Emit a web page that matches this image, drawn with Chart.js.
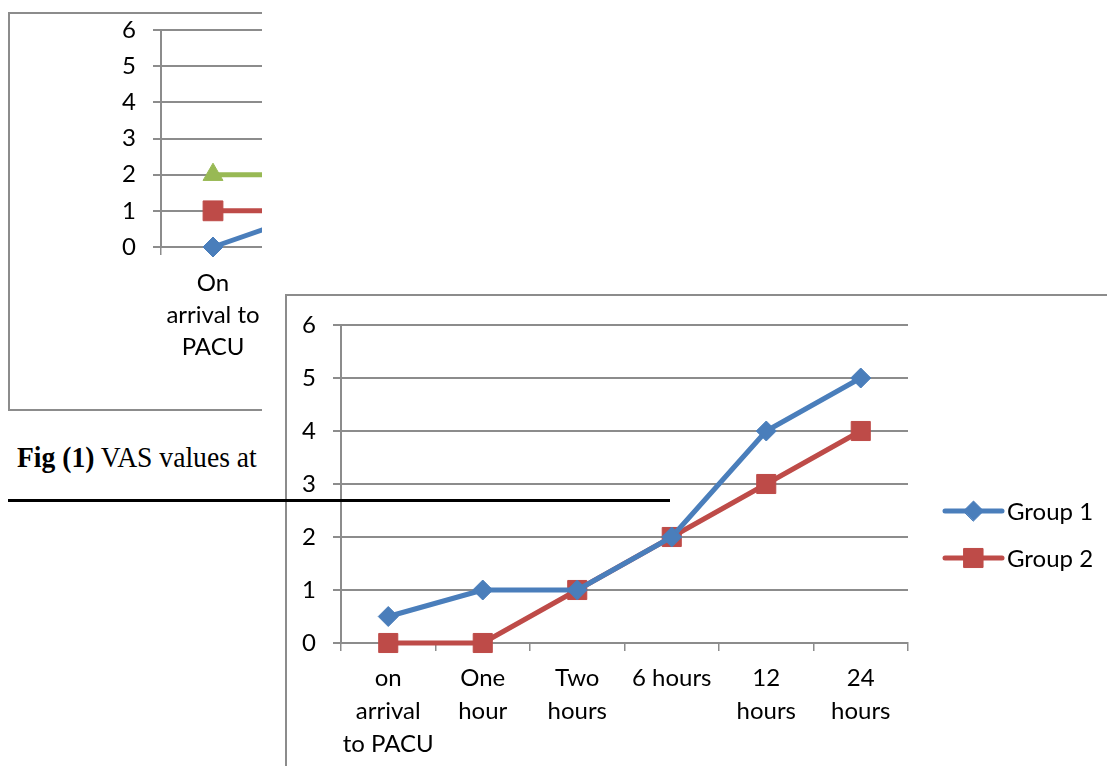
<!DOCTYPE html>
<html>
<head>
<meta charset="utf-8">
<script src="https://cdn.jsdelivr.net/npm/chart.js@4.4.0/dist/chart.umd.min.js"></script>
<style>
  html, body { margin: 0; padding: 0; background: #fff; overflow: hidden; }
  body { width: 1107px; height: 766px; position: relative; }
  .abs { position: absolute; }
  #backClip { left: 0; top: 0; width: 262px; height: 766px; overflow: hidden; }
  #backFrame { left: 8px; top: 12px; width: 900px; height: 395px; border: 2px solid #8c8c8c; box-sizing: content-box; }
  #frontFrame { left: 285px; top: 294px; width: 900px; height: 600px; border: 2px solid #8c8c8c; background: #fff; }
  #caption { left: 17px; top: 442px; font-family: "Liberation Serif", "Times New Roman", serif; font-size: 30px; line-height: 30px;
             color: #000; white-space: nowrap; transform: scaleX(0.92); transform-origin: 0 0; }
  #rule { left: 8px; top: 499px; width: 662px; height: 3px; background: #000; z-index: 10; }
</style>
</head>
<body>
<div id="backClip" class="abs">
  <div id="backFrame" class="abs"></div>
  <div class="abs" style="left:8px;top:12px;"><canvas id="backChart" width="420" height="397"></canvas></div>
</div>
<div id="caption" class="abs"><b>Fig (1)</b> VAS values at</div>
<div id="frontFrame" class="abs"></div>
<div class="abs" style="left:286px;top:295px;"><canvas id="vasChart" width="821" height="471"></canvas></div>
<div id="rule" class="abs"></div>
<script>
// front chart data
const times = [["on", "arrival", "to PACU"], ["One", "hour"], ["Two", "hours"], "6 hours", ["12", "hours"], ["24", "hours"]];
const group1 = [0.5, 1, 1, 2, 4, 5];
const group2 = [0, 0, 1, 2, 3, 4];
const yTicks = [0, 1, 2, 3, 4, 5, 6];

// back chart data (only the first point is visible)
const backTimes = [["On", "arrival to", "PACU"], ["One", "hour"]];
const backA = [0, 1];
const backB = [1, 1];
const backC = [2, 2];

const BLUE = "#4a7ebb", RED = "#be4b48", GREEN = "#98b954", GRID = "#8c8c8c";
const FONT = "Lato, 'Open Sans', sans-serif";

function series(label, data, color, style, r) {
  return {
    label, data,
    borderColor: color, backgroundColor: color,
    borderWidth: 5, borderJoinStyle: "round", borderCapStyle: "round",
    pointStyle: style, pointRadius: r, pointHoverRadius: r,
    pointBackgroundColor: color, pointBorderColor: color, pointBorderWidth: 1,
    tension: 0, clip: false
  };
}

function axes(area, h, xFont, lineH, labelPad, yFont) {
  return {
    x: {
      offset: true,
      afterFit: s => { s.height = h - area.bottom; },
      grid: { offset: true, drawOnChartArea: false, drawTicks: true, tickLength: 8, color: GRID, lineWidth: 1.5 },
      border: { display: true, color: GRID, width: 2 },
      ticks: { color: "#000", font: { family: FONT, size: xFont, lineHeight: lineH }, padding: labelPad, maxRotation: 0, autoSkip: false }
    },
    y: {
      min: 0, max: 6,
      afterFit: s => { s.width = area.left; s.paddingTop = 0; s.paddingBottom = 0; },
      afterBuildTicks: s => { s.ticks = yTicks.map(v => ({ value: v })); },
      grid: { color: GRID, lineWidth: 2, drawTicks: true, tickLength: 8 },
      border: { display: true, color: GRID, width: 2 },
      ticks: { color: "#000", font: { family: FONT, size: yFont }, padding: 17 }
    }
  };
}

// legend drawn as line + marker, like the office chart legend
const sideLegend = {
  id: "sideLegend",
  afterDraw(chart, args, opts) {
    if (!opts.show) return;
    const ctx = chart.ctx;
    chart.data.datasets.forEach((ds, i) => {
      const y = opts.top + i * opts.gap;
      ctx.save();
      ctx.strokeStyle = ds.borderColor;
      ctx.lineWidth = ds.borderWidth;
      ctx.lineCap = "round";
      ctx.beginPath();
      ctx.moveTo(opts.x0, y);
      ctx.lineTo(opts.x1, y);
      ctx.stroke();
      ctx.fillStyle = ds.pointBackgroundColor;
      ctx.strokeStyle = ds.pointBorderColor;
      ctx.lineWidth = 1;
      Chart.helpers.drawPoint(ctx, { pointStyle: ds.pointStyle, radius: ds.pointRadius, rotation: 0, borderWidth: 1 }, (opts.x0 + opts.x1) / 2, y);
      ctx.fillStyle = "#000";
      ctx.font = opts.font;
      ctx.textBaseline = "middle";
      ctx.textAlign = "left";
      ctx.fillText(ds.label, opts.x1 + 5, y + 1);
      ctx.restore();
    });
  }
};

const frontArea = { left: 55, top: 30, right: 622, bottom: 348 };
new Chart(document.getElementById("vasChart"), {
  type: "line",
  data: {
    labels: times,
    datasets: [
      series("Group 1", group1, BLUE, "rectRot", 10),
      series("Group 2", group2, RED, "rect", 13.5)
    ]
  },
  options: {
    responsive: false, animation: false,
    layout: { padding: { top: frontArea.top, right: 821 - frontArea.right, left: 0, bottom: 0 } },
    plugins: {
      legend: { display: false }, tooltip: { enabled: false },
      sideLegend: { show: true, x0: 659, x1: 716, top: 216, gap: 47, font: "24px " + FONT }
    },
    scales: axes(frontArea, 471, 24, 1.375, 11, 24)
  },
  plugins: [sideLegend]
});

const backArea = { left: 153, top: 18, right: 361, bottom: 235 };
new Chart(document.getElementById("backChart"), {
  type: "line",
  data: {
    labels: backTimes,
    datasets: [
      series("Series 1", backA, BLUE, "rectRot", 10),
      series("Series 2", backB, RED, "rect", 14),
      series("Series 3", backC, GREEN, "triangle", 11.5)
    ]
  },
  options: {
    responsive: false, animation: false,
    layout: { padding: { top: backArea.top, right: 420 - backArea.right, left: 0, bottom: 0 } },
    plugins: { legend: { display: false }, tooltip: { enabled: false }, sideLegend: { show: false } },
    scales: axes(backArea, 397, 24, 1.333, 12, 24)
  },
  plugins: [sideLegend]
});
</script>
</body>
</html>
